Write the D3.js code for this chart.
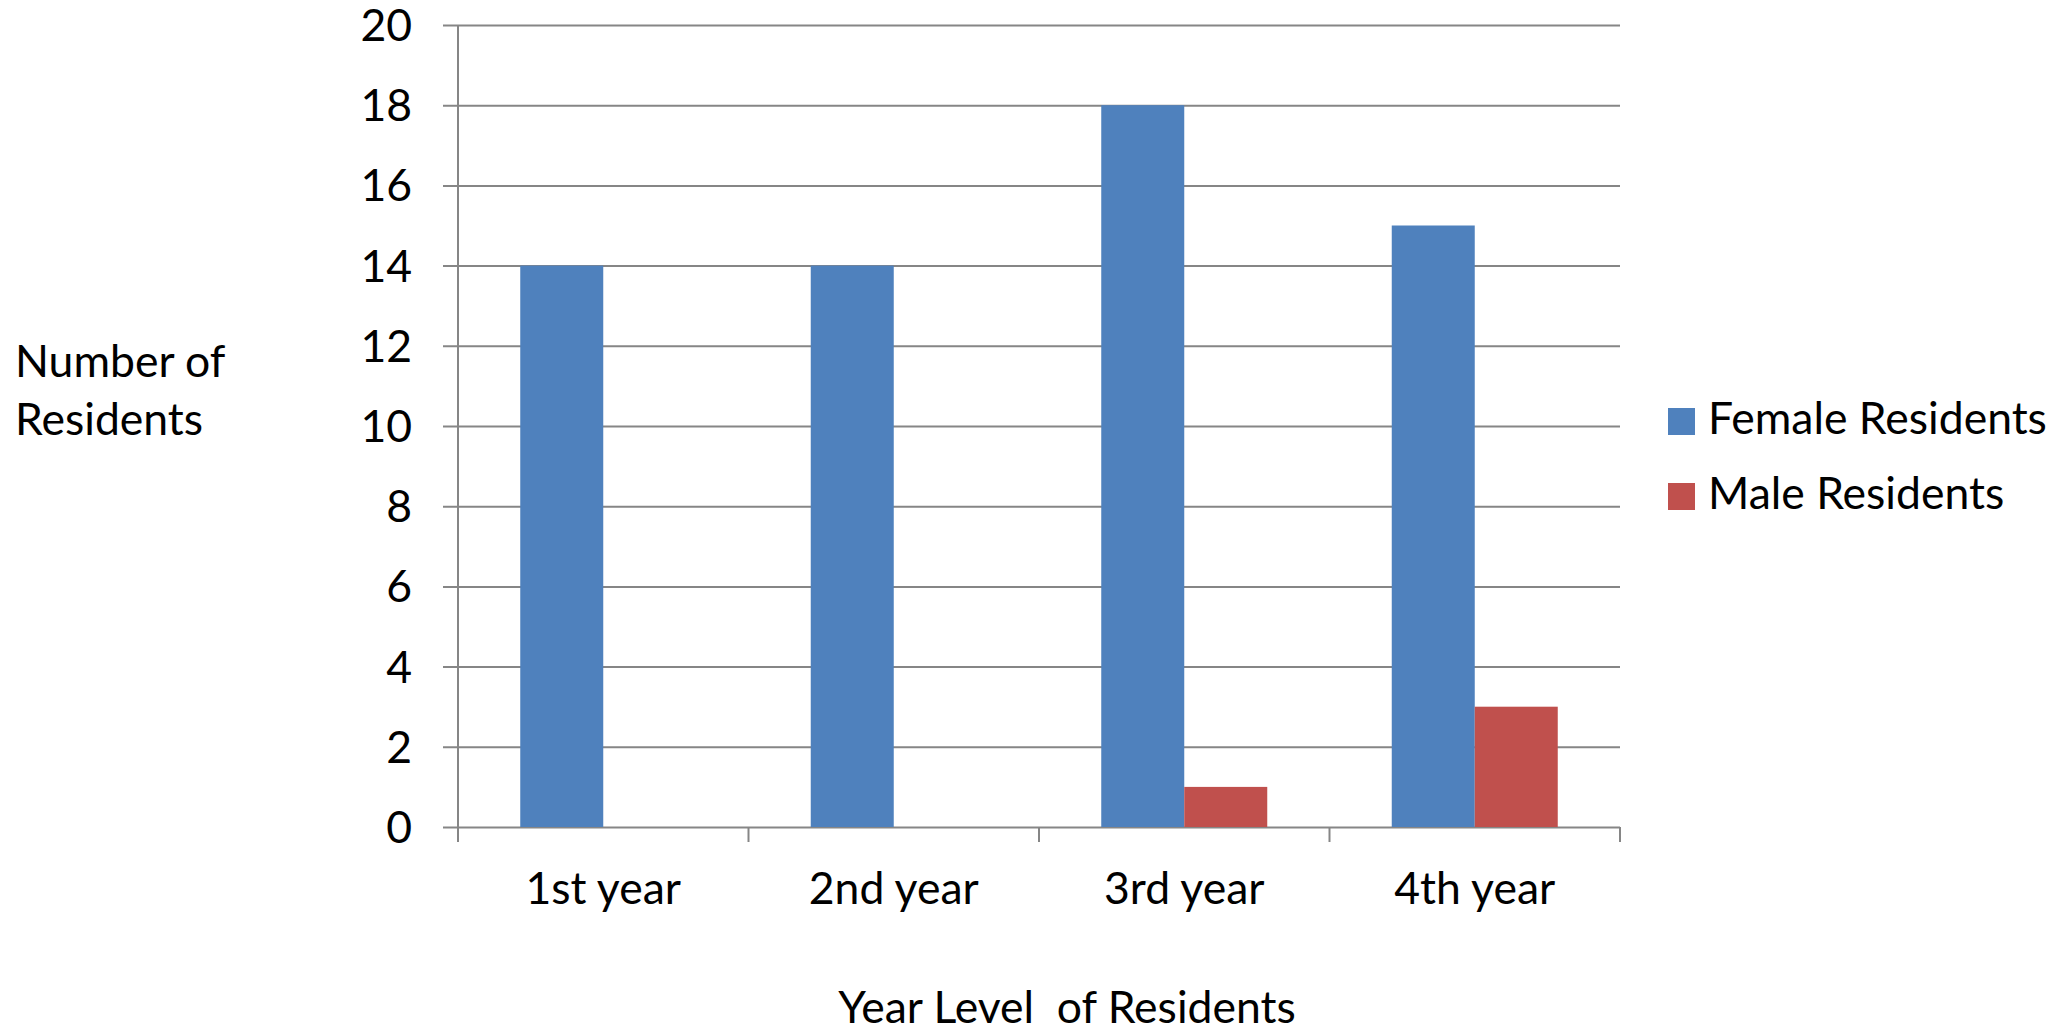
<!DOCTYPE html>
<html>
<head>
<meta charset="utf-8">
<script src="https://cdn.jsdelivr.net/npm/d3@7"></script>
<style>
    body { margin: 0; background: #fff; }
    text { font-family: Lato, "Open Sans", sans-serif; fill: #000; }
</style>
</head>
<body>
<svg id="plotarea"></svg>
<script>
// chart data
var years = ["1st year", "2nd year", "3rd year", "4th year"];
var seriesNames = ["Female Residents", "Male Residents"];
var female = [14, 14, 18, 15];
var male = [0, 0, 1, 3];
var yTicks = [0, 2, 4, 6, 8, 10, 12, 14, 16, 18, 20];

var colours = ["#4F81BD", "#C0504D"];
var gridColour = "#868686";

var width = 2056, height = 1031;
var margin = {top: 25, right: 436, bottom: 204, left: 458};
var plotW = width - margin.left - margin.right;
var plotH = height - margin.top - margin.bottom;
var fontSize = 44.5;

var svg = d3.select("#plotarea")
    .attr("width", width)
    .attr("height", height);

var g = svg.append("g")
    .attr("transform", "translate(" + margin.left + "," + margin.top + ")");

var x = d3.scaleBand()
    .domain(years)
    .range([0, plotW])
    .padding(0);

// Excel style gap width 150%: band = 2 bars + 1.5 bar
var barW = x.bandwidth() / 3.5;
var xs = d3.scaleBand()
    .domain(seriesNames)
    .range([barW * 0.75, barW * 2.75]);

var y = d3.scaleLinear()
    .domain([0, 20])
    .range([plotH, 0]);

// y axis with gridlines stretched across the plot
var yAxis = g.append("g")
    .call(d3.axisLeft(y).tickValues(yTicks).tickSize(15).tickPadding(31));
yAxis.select(".domain").remove();
yAxis.selectAll(".tick line")
    .attr("x1", plotW)
    .attr("stroke", gridColour)
    .attr("stroke-width", 2);
yAxis.selectAll(".tick text")
    .attr("dy", "0.35em")
    .style("font-size", fontSize + "px");

// vertical axis line
g.append("line")
    .attr("x1", 0).attr("x2", 0)
    .attr("y1", 0).attr("y2", plotH + 15)
    .attr("stroke", gridColour)
    .attr("stroke-width", 2);

// x axis: labels at centres, ticks between categories
var xAxis = g.append("g")
    .attr("transform", "translate(0," + plotH + ")")
    .call(d3.axisBottom(x).tickSize(0));
xAxis.select(".domain").remove();
xAxis.selectAll(".tick text")
    .attr("y", 77)
    .attr("dy", 0)
    .style("font-size", fontSize + "px");

var bounds = years.map(function (d) { return x(d); }).concat([x.range()[1]]);
g.selectAll(".xtick")
    .data(bounds)
    .enter()
    .append("line")
    .attr("class", "xtick")
    .attr("x1", function (d) { return d; })
    .attr("x2", function (d) { return d; })
    .attr("y1", plotH)
    .attr("y2", plotH + 15)
    .attr("stroke", gridColour)
    .attr("stroke-width", 2);

// bars
var series = [female, male];
series.forEach(function (vals, si) {
    g.selectAll(".bar" + si)
        .data(vals.map(function (v, i) { return {year: years[i], value: v}; })
            .filter(function (d) { return d.value > 0; }))
        .enter()
        .append("rect")
        .attr("class", "bar" + si)
        .attr("x", function (d) { return x(d.year) + xs(seriesNames[si]); })
        .attr("y", function (d) { return y(d.value); })
        .attr("width", xs.bandwidth())
        .attr("height", function (d) { return plotH - y(d.value); })
        .attr("fill", colours[si]);
});

// axis titles
svg.append("text")
    .attr("x", 15).attr("y", 377)
    .style("font-size", fontSize + "px")
    .text("Number of");
svg.append("text")
    .attr("x", 15).attr("y", 435)
    .style("font-size", fontSize + "px")
    .text("Residents");

svg.append("text")
    .attr("x", 1067).attr("y", 1023)
    .attr("text-anchor", "middle")
    .style("font-size", fontSize + "px")
    .style("white-space", "pre")
    .text("Year Level  of Residents");

// legend
var legend = svg.selectAll(".legend")
    .data(seriesNames)
    .enter()
    .append("g")
    .attr("class", "legend")
    .attr("transform", function (d, i) { return "translate(1668," + (408 + i * 75) + ")"; });

legend.append("rect")
    .attr("width", 27)
    .attr("height", 27)
    .attr("fill", function (d, i) { return colours[i]; });

legend.append("text")
    .attr("x", 40)
    .attr("y", 26)
    .style("font-size", fontSize + "px")
    .text(function (d) { return d; });
</script>
</body>
</html>
